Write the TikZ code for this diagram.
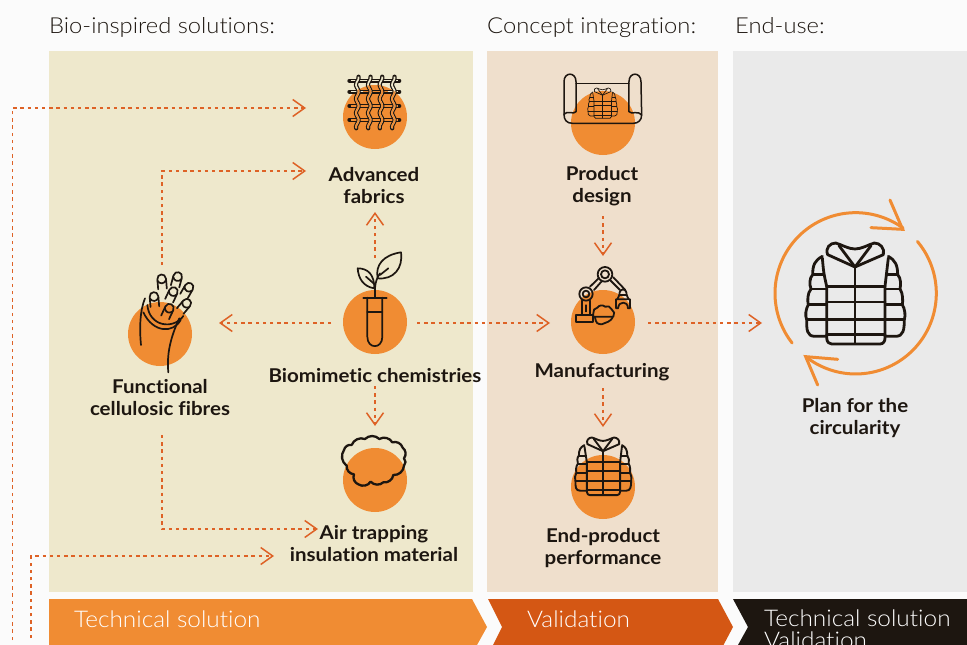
\documentclass[tikz,border=0pt]{standalone}
\usepackage{fontspec}
\setmainfont{Lato}
\newfontfamily\lightf[FakeStretch=1.08,Ligatures=NoCommon]{Lato Light}
\newfontfamily\barf[FakeStretch=1.06,Ligatures=NoCommon]{Lato Light}
\newfontfamily\boldf[FakeStretch=1.08,Ligatures=NoCommon]{Lato Bold}
\usetikzlibrary{arrows.meta,calc}
\definecolor{pagebg}{HTML}{FBFBFB}
\definecolor{panelA}{HTML}{EEE8CC}
\definecolor{panelB}{HTML}{EFDFCC}
\definecolor{panelC}{HTML}{EAEAEA}
\definecolor{orangeA}{HTML}{F08C33}
\definecolor{orangeB}{HTML}{D45714}
\definecolor{inkc}{HTML}{1D1610}
\definecolor{flowc}{HTML}{DE6226}
\tikzset{
  disc/.style={circle,fill=orangeA,minimum size=64pt,inner sep=0pt,outer sep=0pt},
  flow/.style={draw=flowc,line width=1.8pt,dash pattern=on 3.4pt off 3.8pt,-{Straight Barb[length=12pt,width=17pt,line width=1.5pt]}},
  head/.style={anchor=base west,font=\lightf\fontsize{22}{26}\selectfont,text=inkc,inner sep=0pt},
  lab/.style={font=\boldf\fontsize{19}{22}\selectfont,text=inkc,align=center,inner sep=0pt},
  bar/.style={anchor=base west,font=\barf\fontsize{23}{22}\selectfont,text=white,inner sep=0pt},
  ic/.style={draw=inkc,line cap=round,line join=round},
  zoomed/.style={x=0.3333pt,y=-0.3333pt},
  cyc/.style={draw=orangeA,line width=3pt,line cap=round,line join=miter}
}
\newcommand{\jacketicon}{%
  \draw (172,205) .. controls (176,250) .. (185,290) -- (185,445) .. controls (186,458) and (192,463) .. (200,463) -- (345,463) .. controls (355,463) and (360,455) .. (360,445) -- (360,290) .. controls (366,250) .. (370,205);
  \draw (185,290)--(360,290) (185,337)--(360,337) (125,390)--(418,390) (185,435)--(360,435) (270,232)--(270,460);
  \draw (188,195) .. controls (180,175) and (195,160) .. (212,160) .. controls (230,165) and (250,178) .. (270,178) .. controls (290,178) and (310,165) .. (328,160) .. controls (345,160) and (360,175) .. (355,195) -- (270,232) -- cycle;
  \draw (222,168)--(270,232)--(318,168);
  \draw (172,200) .. controls (150,212) and (143,225) .. (143,255) .. controls (133,265) and (133,285) .. (138,298) .. controls (127,310) and (127,335) .. (130,345) .. controls (122,358) and (120,378) .. (125,390) .. controls (125,420) and (125,440) .. (150,440) -- (185,440);
  \draw (370,200) .. controls (390,212) and (398,225) .. (398,255) .. controls (408,265) and (408,285) .. (405,298) .. controls (414,310) and (414,335) .. (412,345) .. controls (420,358) and (422,378) .. (418,390) .. controls (418,420) and (415,440) .. (392,440) -- (360,440);
  \draw (145,255)--(176,255) (138,298)--(183,298) (130,345)--(183,345) (366,255)--(398,255) (362,298)--(405,298) (362,345)--(412,345);
}
\newcommand{\fibreloop}[3]{%
  \begin{scope}[shift={(#1,#2)},rotate=#3]
    \draw (-13,30)--(-13,0) .. controls (-13,-18) and (13,-18) .. (13,0) -- (13,30);
    \draw (-13,4) .. controls (-7,16) and (7,16) .. (13,4);
  \end{scope}}
\newcommand{\fabwaves}{%
  \foreach \xx in {112,148,183,220}{
    \draw plot[variable=\t,domain=50:205,samples=31,smooth] ({\xx+4*sin(\t*8.5)},\t);
  }}
\begin{document}
\begin{tikzpicture}[x=1pt,y=-1pt]
\useasboundingbox (0,0) rectangle (967,645);
\fill[pagebg] (0,0) rectangle (967,645);
\fill[panelA] (49,51) rectangle (473,592);
\fill[panelB] (487,51) rectangle (718,592);
\fill[panelC] (733,51) rectangle (967,592);
% ribbon
\fill[orangeA] (49,599)--(472,599)--(487,627)--(477,645)--(49,645)--cycle;
\fill[orangeB] (488,599)--(718,599)--(733,627)--(723.5,645)--(493,645)--(502,627)--cycle;
\fill[inkc] (733,599)--(967,599)--(967,645)--(738,645)--(748,627)--cycle;
\node[head] (hA) at (49,33) {Bio-inspired solutions:};
\node[head] (hB) at (487,33) {Concept integration:};
\node[head] (hC) at (735,33) {End-use:};
\node[bar] (bA) at (74,627) {Technical solution};
\node[bar] (bB) at (527,627) {Validation};
\node[bar] (bC) at (764,626) {Technical solution};
\node[bar] (bD) at (764,648) {Validation};
% discs
\node[disc] (fab) at (375,117) {};
\node[disc] (fun) at (160,334) {};
\node[disc] (bio) at (375,322) {};
\node[disc] (air) at (375,480) {};
\node[disc] (des) at (603,123) {};
\node[disc] (man) at (603,322) {};
\node[disc] (end) at (603,487) {};
% labels
\node[lab] (lfab) at (374,186) {Advanced\\fabrics};
\node[lab] (ldes) at (602,186) {Product\\design};
\node[lab] (lfun) at (160,398) {Functional\\cellulosic fibres};
\node[lab] (lbio) at (375,376) {Biomimetic chemistries};
\node[lab] (lman) at (602,372) {Manufacturing};
\node[lab] (lair) at (374,544) {Air trapping\\insulation material};
\node[lab] (lend) at (603,548) {End-product\\performance};
\node[lab] (lcir) at (855,418) {Plan for the\\circularity};
% connector ends
\coordinate (s1) at (12.5,640);
\coordinate (c1) at (12.5,108);
\coordinate (e1) at (306,108);
\coordinate (s2) at (31,638);
\coordinate (c2) at (31,556);
\coordinate (e2) at (274,556);
\coordinate (s3) at (162,265);
\coordinate (c3) at (162,171);
\coordinate (e3) at (306,171);
\coordinate (s4) at (162,435);
\coordinate (c4) at (162,529);
\coordinate (e4) at (318,529);
\draw[flow] (s1) -- (c1) -- (e1);
\draw[flow] (s2) -- (c2) -- (e2);
\draw[flow] (s3) -- (c3) -- (e3);
\draw[flow] (s4) -- (c4) -- (e4);
\coordinate (bioT) at (375,258); \coordinate (fabB) at (375,212);
\coordinate (bioL) at (331,323); \coordinate (funR) at (219,323);
\coordinate (bioR) at (417,323); \coordinate (manL) at (550,323);
\coordinate (bioB) at (375,386); \coordinate (airT) at (375,426);
\coordinate (desB) at (603,216); \coordinate (manT) at (603,256);
\coordinate (manR) at (648,323); \coordinate (cycL) at (762,323);
\coordinate (manB) at (603,388); \coordinate (endT) at (603,427);
\draw[flow] (bioT) -- (fabB);
\draw[flow] (bioL) -- (funR);
\draw[flow] (bioR) -- (manL);
\draw[flow] (bioB) -- (airT);
\draw[flow] (desB) -- (manT);
\draw[flow] (manR) -- (cycL);
\draw[flow] (manB) -- (endT);
% fabric icon
\begin{scope}[shift={(320,60)},zoomed]
  \draw[ic,line width=4pt] (88,62)--(238,62) (88,95)--(238,95) (88,138)--(238,138) (88,180)--(238,180);
  \draw[panelA,line width=1.3pt] (92,62)--(234,62);
  \draw[panelA,line width=1.3pt] (92,95)--(130,95) (205,95)--(234,95);
  \draw[orangeA,line width=1.3pt] (130,95)--(205,95) (92,138)--(234,138) (92,180)--(234,180);
  \begin{scope}[ic,line width=4.2pt] \fabwaves \end{scope}
  \begin{scope}[draw=panelA,line width=1.7pt] \fabwaves \end{scope}
  \begin{scope}
    \clip (165,170) circle[radius=96];
    \begin{scope}[draw=orangeA,line width=1.7pt] \fabwaves \end{scope}
  \end{scope}
\end{scope}
% hand icon
\begin{scope}[shift={(110,255)},zoomed,ic,line width=1.7pt]
  \fibreloop{155}{72}{5}
  \fibreloop{203}{65}{-15}
  \fibreloop{237}{97}{-30}
  \fibreloop{190}{110}{-25}
  \fibreloop{132}{125}{5}
  \fibreloop{230}{145}{-40}
  \fibreloop{178}{160}{-25}
  \draw (105,130) .. controls (90,165) and (88,220) .. (93,270);
  \draw (112,150) .. controls (118,215) and (190,225) .. (220,183);
  \draw (100,172) .. controls (130,235) and (190,235) .. (212,195);
  \draw (208,190) .. controls (180,250) and (170,300) .. (175,352);
\end{scope}
% plant and tube icon
\begin{scope}[shift={(330,240)},zoomed,ic,line width=1.7pt]
  \draw (100,173)--(170,173);
  \draw (112,173)--(112,290) .. controls (112,328) and (157,328) .. (157,290) -- (157,173);
  \draw (112,215)--(157,215);
  \draw (135,173)--(135,145) .. controls (136,125) and (142,112) .. (150,100);
  \draw (143,115) .. controls (135,75) and (160,45) .. (213,37) .. controls (220,85) and (190,120) .. (143,115) -- cycle;
  \draw (150,105)--(175,85);
  \draw (133,145) .. controls (100,140) and (85,115) .. (83,85) .. controls (115,85) and (133,105) .. (133,145);
  \draw (108,110)--(133,132);
\end{scope}
% cloud icon
\begin{scope}[shift={(330,425)},zoomed,ic,line width=2.3pt]
  \draw (65,60) to[bend left=45] (105,42) to[bend left=45] (148,42) to[bend left=45] (187,52) to[bend left=45] (218,68) to[bend left=45] (222,100) to[bend left=45] (222,122) to[bend left=45] (190,150) to[bend left=45] (160,172) to[bend left=45] (122,170) to[bend left=45] (85,178) to[bend left=45] (72,148) to[bend left=45] (50,122) to[bend left=45] (42,75) to[bend left=45] (65,60);
\end{scope}
% blueprint icon
\begin{scope}[shift={(550,65)},zoomed,ic,line width=1.5pt]
  \draw (42,148)--(42,50) .. controls (42,20) and (78,20) .. (78,50) -- (78,140);
  \draw (78,140) .. controls (72,150) and (50,135) .. (42,148) .. controls (42,165) and (50,175) .. (68,175) -- (250,175) .. controls (265,175) and (275,165) .. (275,150) .. controls (265,135) and (245,150) .. (237,140);
  \draw (237,140)--(237,50) .. controls (237,20) and (273,20) .. (273,50) -- (275,150);
  \draw (78,55)--(237,55);
\end{scope}
\begin{scope}[shift={(602.5,103)},x=0.1pt,y=-0.1pt,ic,line width=0.7pt]
  \begin{scope}[shift={(-270,-310)}] \jacketicon \end{scope}
\end{scope}
% robot icon
\begin{scope}[shift={(560,260)},zoomed,ic,line width=1.8pt]
  \draw (47,165) rectangle (100,185);
  \draw (65,165)--(65,122) (90,165)--(90,122);
  \draw[line width=1.3pt] (78,135)--(78,155);
  \draw (78,102) circle[radius=20] (78,102) circle[radius=10];
  \draw (135,43) circle[radius=22] (135,43) circle[radius=12];
  \draw (90,80)--(117,54) (102,90)--(125,64);
  \draw (152,62)--(180,90) (160,52)--(196,90);
  \draw (178,105) .. controls (178,82) and (200,82) .. (200,105) -- cycle;
  \draw (168,145)--(168,118) -- (210,118) -- (210,145) -- (204,145) .. controls (204,132) and (196,128) .. (190,128) .. controls (182,128) and (176,132) .. (174,145) -- cycle;
  \draw (178,105)--(172,118) (200,105)--(206,118);
  \draw (100,160) to[bend left=50] (112,143) to[bend left=50] (135,140) to[bend left=50] (155,148) to[bend left=50] (160,170) -- (100,170) -- cycle;
  \draw (105,172) .. controls (108,190) and (112,192) .. (125,193) -- (145,185) .. controls (152,182) and (156,176) .. (158,172);
\end{scope}
% end product jacket
\begin{scope}[shift={(603,466)},x=0.19pt,y=-0.19pt,ic,line width=1.9pt]
  \begin{scope}[shift={(-270,-310)}] \jacketicon \end{scope}
\end{scope}
% large jacket
\begin{scope}[shift={(855,293)},zoomed,ic,line width=2.8pt]
  \begin{scope}[shift={(-270,-310)}] \jacketicon \end{scope}
\end{scope}
% cycle arrows
\begin{scope}[shift={(765,190)},zoomed]
  \draw[cyc] plot[variable=\t,domain=142:306,samples=40,smooth] ({272+242*cos(\t)},{310+242*sin(\t)});
  \draw[cyc] (375,30) -- (413,118) -- (318,113);
  \draw[cyc] plot[variable=\t,domain=-40:128,samples=40,smooth] ({272+242*cos(\t)},{310+242*sin(\t)});
  \draw[cyc] (158,585) -- (122,500) -- (218,508);
\end{scope}
\end{tikzpicture}
\end{document}
